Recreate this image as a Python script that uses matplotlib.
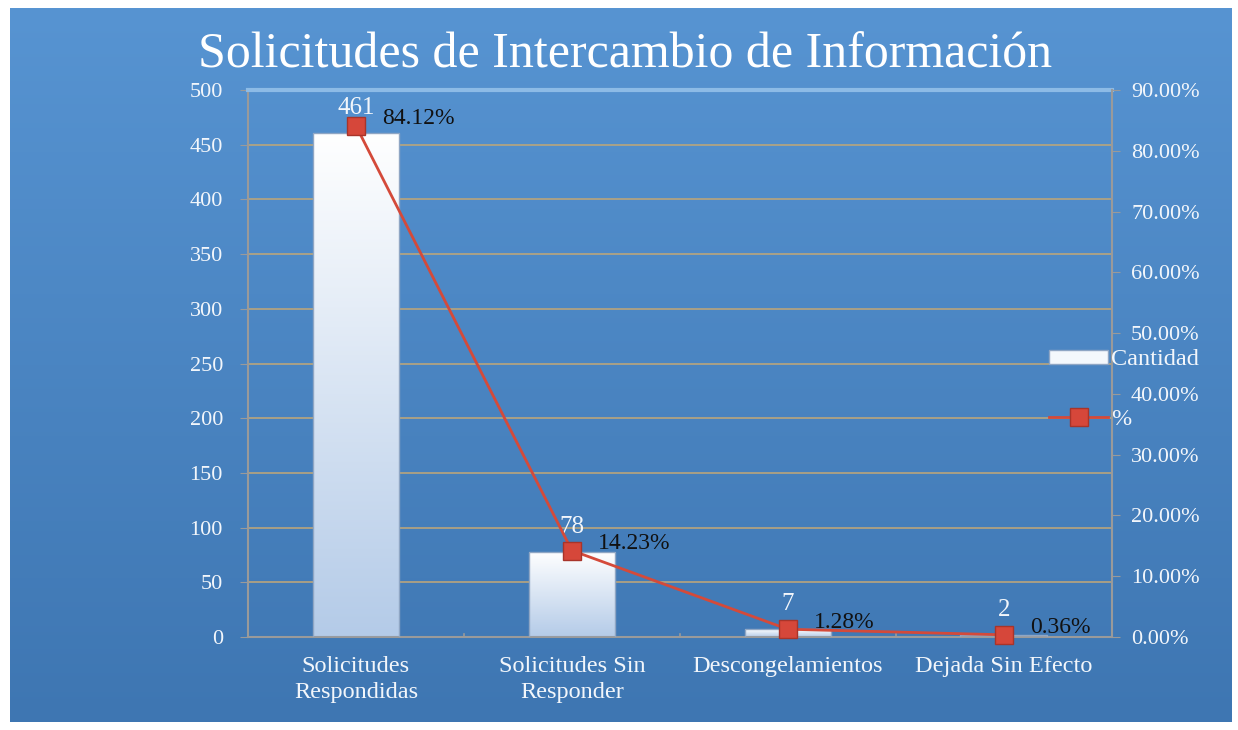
import numpy as np
import matplotlib
matplotlib.use("Agg")
from matplotlib import pyplot as plt
from matplotlib.colors import LinearSegmentedColormap
from matplotlib.lines import Line2D
from matplotlib.patches import Patch

# data
categorias = ["Solicitudes\nRespondidas", "Solicitudes Sin\nResponder", "Descongelamientos", "Dejada Sin Efecto"]
cantidad = [461, 78, 7, 2]
porcentaje = [84.12, 14.23, 1.28, 0.36]

plt.rcParams['font.family'] = ['Liberation Serif', 'DejaVu Serif']

fig = plt.figure(figsize=(12.38, 7.3), dpi=100)
fig.patch.set_facecolor("white")

# blue gradient panel behind everything
bg = fig.add_axes([0.008, 0.011, 0.987, 0.978], zorder=-2)
grad = np.linspace(0, 1, 256).reshape(-1, 1)
bg_cmap = LinearSegmentedColormap.from_list("bg", ["#5794d2", "#3e76b2"])
bg.imshow(grad, aspect="auto", cmap=bg_cmap, extent=[0, 1, 0, 1])
bg.set_axis_off()

ax = fig.add_axes([0.2003, 0.1274, 0.6976, 0.7493])
ax.patch.set_alpha(0)
x = np.arange(len(categorias))
bars = ax.bar(x, cantidad, width=0.4, color="none", edgecolor="#8fa6c4", linewidth=1.0, zorder=3)

bar_cmap = LinearSegmentedColormap.from_list("bar", ["#b4cbe8", "#ffffff"])
for b in bars:
    x0, y0 = b.get_x(), b.get_y()
    w, h = b.get_width(), b.get_height()
    im = ax.imshow(grad, aspect="auto", cmap=bar_cmap, origin="lower",
                   extent=[x0, x0 + w, y0, y0 + h], zorder=2)
    im.set_clip_path(b)

for xi, v in zip(x, cantidad):
    ax.annotate(str(v), (xi, v), xytext=(0, 10), textcoords="offset points",
                ha="center", va="bottom", color="#f2f6fb", fontsize=18)

ax.set_xlim(-0.5, len(categorias) - 0.5)
ax.set_ylim(0, 500)
ax.set_yticks(np.arange(0, 501, 50))
ax.set_xticks(x)
ax.set_xticklabels(categorias, fontsize=17.5, linespacing=1.3)
ax.tick_params(axis="y", colors="#9a9a9a", labelsize=16, length=6, pad=12)
ax.tick_params(axis="y", labelcolor="#f2f6fb")
ax.tick_params(axis="x", length=0, pad=14, labelcolor="#f2f6fb")
ax.grid(axis="y", color="#b9a57c", linewidth=1.2, zorder=0)
ax.set_axisbelow(True)
for s in ["left", "bottom"]:
    ax.spines[s].set_color("#9a9a9a")
    ax.spines[s].set_linewidth(1.5)
ax.spines["top"].set_color("#8dbbe6")
ax.spines["top"].set_linewidth(3)
ax.spines["right"].set_visible(False)
for xi in np.arange(0.5, len(categorias) - 0.5, 1):
    ax.plot([xi, xi], [0, 3], color="#9a9a9a", lw=1.2, clip_on=False, zorder=4)

ax2 = ax.twinx()
ax2.set_ylim(0, 90)
ax2.set_yticks(np.arange(0, 91, 10))
ax2.set_yticklabels(["{:.2f}%".format(t) for t in np.arange(0, 91, 10)])
ax2.tick_params(axis="y", colors="#9a9a9a", labelsize=16, length=6, pad=8)
ax2.tick_params(axis="y", labelcolor="#f2f6fb")
for s in ["left", "top", "bottom"]:
    ax2.spines[s].set_visible(False)
ax2.spines["right"].set_color("#9a9a9a")
ax2.spines["right"].set_linewidth(1.5)
ax2.plot(x, porcentaje, color="#d44a3a", linewidth=2, marker="s", markersize=13,
         markerfacecolor="#d6473a", markeredgecolor="#a8342a", zorder=5, clip_on=False)
for xi, p in zip(x, porcentaje):
    ax2.annotate("{:.2f}%".format(p), (xi, p), xytext=(19, 5), textcoords="offset points",
                 ha="left", va="center", color="#111111", fontsize=17)

fig.text(0.505, 0.925, "Solicitudes de Intercambio de Información", ha="center", va="center",
         color="white", fontsize=36)

handles = [Patch(facecolor="#f4f8fc", edgecolor="#8fa6c4"),
           Line2D([], [], color="#d44a3a", lw=2, marker="s", markersize=13,
                  markerfacecolor="#d6473a", markeredgecolor="#a8342a")]
leg = fig.legend(handles, ["Cantidad", "%"], loc="center left", bbox_to_anchor=(0.83, 0.466),
                 frameon=False, fontsize=17.5, labelcolor="#f2f6fb", handlelength=2.4,
                 handleheight=0.5, handletextpad=0.15, labelspacing=1.6)

fig.savefig("out.png", dpi=100)
